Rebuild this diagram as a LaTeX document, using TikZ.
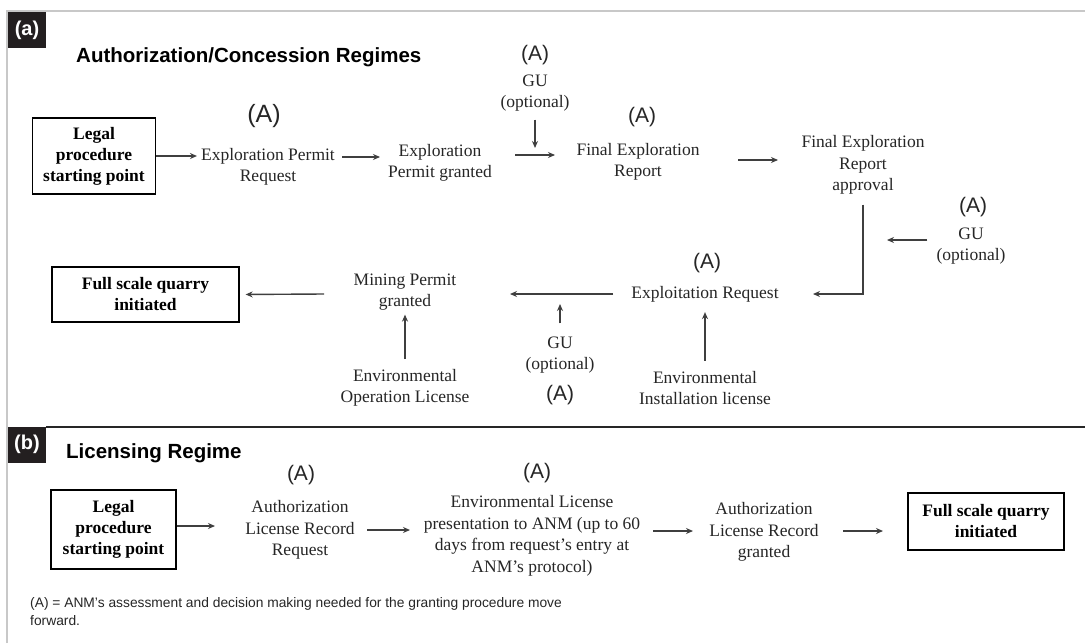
\documentclass[tikz,border=0pt]{standalone}
\usepackage{fontspec}
\setmainfont{Liberation Serif}
\setsansfont{Liberation Sans}
\usetikzlibrary{arrows.meta,calc}
\definecolor{txtc}{HTML}{262626}
\definecolor{arrc}{HTML}{3F3F3F}
\definecolor{framec}{HTML}{C8C8C8}
\definecolor{panelc}{HTML}{231F20}
\begin{document}
\begin{tikzpicture}[x=1pt,y=-1pt,
  txt/.style={font=\fontsize{17.5}{21.5}\selectfont, align=center, text=txtc, inner sep=4pt},
  boxn/.style={draw=black, line width=1.3pt, align=center, text=black, inner sep=2pt,
    font=\bfseries\fontsize{17.5}{21}\selectfont},
  alab/.style={font=\sffamily\fontsize{21}{25}\selectfont, text=txtc, inner sep=2pt},
  alabbig/.style={font=\sffamily\fontsize{25}{29}\selectfont, text=txtc, inner sep=2pt},
  arr/.style={draw=arrc, line width=1.4pt, -{Stealth[length=7pt,width=6pt]}},
  panel/.style={fill=panelc, text=white, font=\sffamily\bfseries\fontsize{20}{24}\selectfont,
    minimum width=38pt, minimum height=36pt, inner sep=0pt},
  ttl/.style={font=\sffamily\bfseries\fontsize{20.5}{24}\selectfont, anchor=west, text=black, inner sep=0pt},
  legend/.style={font=\sffamily\fontsize{13.8}{18}\selectfont, align=left, text=txtc, inner sep=0pt, anchor=north west}
]
\useasboundingbox[fill=white] (0,0) rectangle (1085,643);
\draw[framec, line width=1.5pt] (7,643) -- (7,11) -- (1085,11);

% ---------------- (a) ----------------
\node[panel] (pa) at (27,30) {(a)};
\node[ttl] (ta) at (76,57) {Authorization/Concession Regimes};

\node[boxn, minimum width=123pt, minimum height=76pt] (legal) at (94,156) {Legal\\procedure\\starting point};
\node[alabbig] (a1) at (264,116) {(A)};
\node[txt] (epr) at (268,167) {Exploration Permit\\Request};
\node[txt] (epg) at (440,163) {Exploration\\Permit granted};
\node[alab] (a2) at (535,55) {(A)};
\node[txt] (gu1) at (535,93) {GU\\(optional)};
\node[alab] (a3) at (642,117) {(A)};
\node[txt] (fer) at (638,162) {Final Exploration\\Report};
\node[txt] (fera) at (863,165) {Final Exploration\\Report\\approval};
\node[alab] (a4) at (973,207) {(A)};
\node[txt] (gu2) at (971,246) {GU\\(optional)};
\node[alab] (a5) at (707,263) {(A)};
\node[txt] (er) at (705,294) {Exploitation Request};
\node[txt] (mpg) at (405,292) {Mining Permit\\granted};
\node[boxn, minimum width=187pt, minimum height=55pt] (fsq) at (145.5,294.5) {Full scale quarry\\initiated};
\node[txt] (eol) at (405,388) {Environmental\\Operation License};
\node[txt] (gu3) at (560,355) {GU\\(optional)};
\node[alab] (a6) at (560,395) {(A)};
\node[txt] (eil) at (705,388) {Environmental\\Installation license};

\coordinate (j1s) at (342,157);
\coordinate (j1) at (380,157);
\coordinate (h1s) at (515,155);
\coordinate (h1e) at (555,155);
\coordinate (g1e) at (535,148);
\coordinate (f1s) at (738,160);
\coordinate (f1e) at (778,160);
\coordinate (c1) at (813,294);
\coordinate (g2e) at (887,240);
\coordinate (m1s) at (613,294);
\coordinate (m1e) at (510,294);
\coordinate (q1s) at (324,294);
\coordinate (g3e) at (560,304);

\draw[arr] (legal.east) -- (epr.west |- legal.east);
\draw[arr] (j1s) -- (j1);
\draw[arr] (h1s) -- (h1e);
\draw[arr, shorten <=4pt] (gu1.south) -- (g1e);
\draw[arr] (f1s) -- (f1e);
\draw[arr, shorten <=6pt] (fera.south) |- (c1);
\draw[arr, shorten <=5pt] ([yshift=6pt]gu2.west) -- (g2e);
\draw[arr] (m1s) -- (m1e);
\draw[arr, shorten >=6pt] (q1s) -- (fsq.east);
\draw[arr, shorten <=6pt] (eol.north) -- (mpg.south);
\draw[arr, shorten <=6pt, shorten >=6pt] (eil.north) -- (er.south);
\draw[arr] ([yshift=9pt]gu3.north) -- (g3e);

% ---------------- (b) ----------------
\draw[black!85, line width=1.8pt] (46,427) -- (1085,427);
\node[panel] (pb) at (27,444.5) {(b)};
\node[ttl] (tb) at (66,453) {Licensing Regime};

\node[boxn, minimum width=125pt, minimum height=79pt] (lb) at (113.5,529.5) {Legal\\procedure\\starting point};
\node[alab] (a7) at (301,475) {(A)};
\node[txt] (alrr) at (300,530) {Authorization\\License Record\\Request};
\node[alab] (a8) at (537,473) {(A)};
\node[txt] (elp) at (532,536) {Environmental License\\presentation to ANM (up to 60\\days from request’s entry at\\ANM’s protocol)};
\node[txt] (alrg) at (764,532) {Authorization\\License Record\\granted};
\node[boxn, minimum width=156pt, minimum height=57pt] (fsqb) at (986,521.5) {Full scale quarry\\initiated};

\coordinate (b1e) at (215,526);
\coordinate (b2s) at (367,530);
\coordinate (b2e) at (410,530);
\coordinate (b3s) at (653,531);
\coordinate (b3e) at (693,531);
\coordinate (b4s) at (843,531);
\coordinate (b4e) at (883,531);

\draw[arr] (lb.east |- b1e) -- (b1e);
\draw[arr] (b2s) -- (b2e);
\draw[arr] (b3s) -- (b3e);
\draw[arr] (b4s) -- (b4e);

\node[legend] (leg) at (30,597) {(A) = ANM’s assessment and decision making needed for the granting procedure move\\forward.};
\end{tikzpicture}
\end{document}
